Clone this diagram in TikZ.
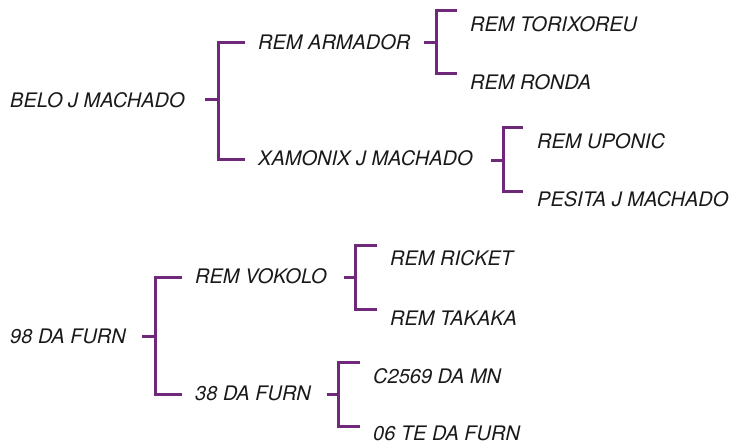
\documentclass[tikz,border=0pt]{standalone}
\usepackage{fontspec}
\setmainfont{TeX Gyre Heros}
\definecolor{brk}{RGB}{112,40,122}
\definecolor{txt}{RGB}{25,25,25}
\begin{document}
\begin{tikzpicture}[x=1pt,y=-1pt,
  lbl/.style={anchor=west,inner sep=0pt,text=txt,font=\fontsize{20}{22}\selectfont\itshape},
  br/.style={draw=brk,line width=3pt,line cap=butt,line join=miter}]
\useasboundingbox (0,0) rectangle (734,443);
% tree 1
\node[lbl] (belo) at (10,100) {BELO J MACHADO};
\node[lbl] (arm) at (258,42) {REM ARMADOR};
\node[lbl] (xam) at (258,158) {XAMONIX J MACHADO};
\node[lbl] (tor) at (470,24) {REM TORIXOREU};
\node[lbl] (ron) at (470,82) {REM RONDA};
\node[lbl] (upo) at (537,141) {REM UPONIC};
\node[lbl] (pes) at (537,199) {PESITA J MACHADO};
% tree 2
\node[lbl] (f98) at (10,336) {98 DA FURN};
\node[lbl] (vok) at (195,276) {REM VOKOLO};
\node[lbl] (f38) at (195,393.5) {38 DA FURN};
\node[lbl] (ric) at (390,258) {REM RICKET};
\node[lbl] (tak) at (390,318) {REM TAKAKA};
\node[lbl] (c25) at (373,376.5) {C2569 DA MN};
\node[lbl] (te06) at (373,433) {06 TE DA FURN};
% bracket coordinates
\coordinate (s1) at (205,100);   \coordinate (j1) at (218,100);
\coordinate (t1) at (245,43);    \coordinate (u1) at (245,160);
\coordinate (s2) at (424,43);    \coordinate (j2) at (436,43);
\coordinate (t2) at (457,11);    \coordinate (u2) at (457,74);
\coordinate (s3) at (491,160.5); \coordinate (j3) at (503,160.5);
\coordinate (t3) at (523,128);   \coordinate (u3) at (523,192);
\coordinate (s4) at (142,336.5); \coordinate (j4) at (155,336.5);
\coordinate (t4) at (182,278);   \coordinate (u4) at (182,395);
\coordinate (s5) at (344,278);   \coordinate (j5) at (355,278);
\coordinate (t5) at (377,246);   \coordinate (u5) at (377,310);
\coordinate (s6) at (327,395);   \coordinate (j6) at (338,395);
\coordinate (t6) at (360,363);   \coordinate (u6) at (360,427);
\foreach \i in {1,...,6}{
  \draw[br] (s\i) -- (j\i);
  \draw[br] (t\i) -- (t\i -| j\i) -- (u\i -| j\i) -- (u\i);
}
\end{tikzpicture}
\end{document}
